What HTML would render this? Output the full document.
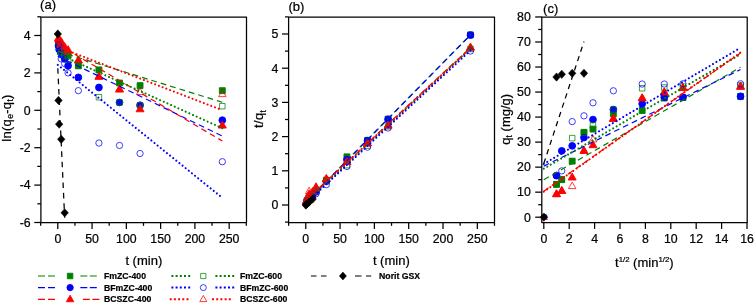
<!DOCTYPE html>
<html lang="en"><head><meta charset="utf-8"><title>Kinetic plots</title>
<style>html,body{margin:0;padding:0;background:#fff;}body{width:754px;height:303px;overflow:hidden;}svg{display:block;}text{stroke:#000;stroke-width:0.22px;}</style>
</head><body>
<svg width="754" height="303" viewBox="0 0 754 303" font-family='"Liberation Sans", Arial, sans-serif' stroke-linejoin="round">
<rect width="754" height="303" fill="#ffffff"/>
<rect x="40.90" y="17.00" width="205.60" height="205.50" fill="none" stroke="#000000" stroke-width="1.25"/>
<line x1="57.80" y1="222.50" x2="57.80" y2="228.90" stroke="#000000" stroke-width="1.25"/>
<text x="57.80" y="242.9" font-size="12.3" text-anchor="middle" fill="#000000">0</text>
<line x1="92.07" y1="222.50" x2="92.07" y2="228.90" stroke="#000000" stroke-width="1.25"/>
<text x="92.07" y="242.9" font-size="12.3" text-anchor="middle" fill="#000000">50</text>
<line x1="126.35" y1="222.50" x2="126.35" y2="228.90" stroke="#000000" stroke-width="1.25"/>
<text x="126.35" y="242.9" font-size="12.3" text-anchor="middle" fill="#000000">100</text>
<line x1="160.62" y1="222.50" x2="160.62" y2="228.90" stroke="#000000" stroke-width="1.25"/>
<text x="160.62" y="242.9" font-size="12.3" text-anchor="middle" fill="#000000">150</text>
<line x1="194.90" y1="222.50" x2="194.90" y2="228.90" stroke="#000000" stroke-width="1.25"/>
<text x="194.90" y="242.9" font-size="12.3" text-anchor="middle" fill="#000000">200</text>
<line x1="229.18" y1="222.50" x2="229.18" y2="228.90" stroke="#000000" stroke-width="1.25"/>
<text x="229.18" y="242.9" font-size="12.3" text-anchor="middle" fill="#000000">250</text>
<line x1="40.66" y1="222.50" x2="40.66" y2="225.80" stroke="#000000" stroke-width="1.25"/>
<line x1="74.94" y1="222.50" x2="74.94" y2="225.80" stroke="#000000" stroke-width="1.25"/>
<line x1="109.21" y1="222.50" x2="109.21" y2="225.80" stroke="#000000" stroke-width="1.25"/>
<line x1="143.49" y1="222.50" x2="143.49" y2="225.80" stroke="#000000" stroke-width="1.25"/>
<line x1="177.76" y1="222.50" x2="177.76" y2="225.80" stroke="#000000" stroke-width="1.25"/>
<line x1="212.04" y1="222.50" x2="212.04" y2="225.80" stroke="#000000" stroke-width="1.25"/>
<line x1="246.31" y1="222.50" x2="246.31" y2="225.80" stroke="#000000" stroke-width="1.25"/>
<line x1="34.30" y1="222.50" x2="40.90" y2="222.50" stroke="#000000" stroke-width="1.25"/>
<text x="30.60" y="226.80" font-size="12.3" text-anchor="end" fill="#000000">-6</text>
<line x1="34.30" y1="185.10" x2="40.90" y2="185.10" stroke="#000000" stroke-width="1.25"/>
<text x="30.60" y="189.40" font-size="12.3" text-anchor="end" fill="#000000">-4</text>
<line x1="34.30" y1="147.70" x2="40.90" y2="147.70" stroke="#000000" stroke-width="1.25"/>
<text x="30.60" y="152.00" font-size="12.3" text-anchor="end" fill="#000000">-2</text>
<line x1="34.30" y1="110.30" x2="40.90" y2="110.30" stroke="#000000" stroke-width="1.25"/>
<text x="30.60" y="114.60" font-size="12.3" text-anchor="end" fill="#000000">0</text>
<line x1="34.30" y1="72.90" x2="40.90" y2="72.90" stroke="#000000" stroke-width="1.25"/>
<text x="30.60" y="77.20" font-size="12.3" text-anchor="end" fill="#000000">2</text>
<line x1="34.30" y1="35.50" x2="40.90" y2="35.50" stroke="#000000" stroke-width="1.25"/>
<text x="30.60" y="39.80" font-size="12.3" text-anchor="end" fill="#000000">4</text>
<line x1="37.30" y1="203.80" x2="40.90" y2="203.80" stroke="#000000" stroke-width="1.25"/>
<line x1="37.30" y1="166.40" x2="40.90" y2="166.40" stroke="#000000" stroke-width="1.25"/>
<line x1="37.30" y1="129.00" x2="40.90" y2="129.00" stroke="#000000" stroke-width="1.25"/>
<line x1="37.30" y1="91.60" x2="40.90" y2="91.60" stroke="#000000" stroke-width="1.25"/>
<line x1="37.30" y1="54.20" x2="40.90" y2="54.20" stroke="#000000" stroke-width="1.25"/>
<line x1="37.30" y1="16.80" x2="40.90" y2="16.80" stroke="#000000" stroke-width="1.25"/>
<text x="40.1" y="9.1" font-size="13" fill="#000000">(a)</text>
<text x="143.8" y="265.4" font-size="13" text-anchor="middle" fill="#000000">t (min)</text>
<text transform="translate(10.7,118.0) rotate(-90)" font-size="13" letter-spacing="0.3" text-anchor="middle" fill="#000000">ln(q<tspan font-size="8.6" dy="2.6">e</tspan><tspan dy="-2.6">-q</tspan><tspan font-size="8.6" dy="2.6">t</tspan><tspan dy="-2.6">)</tspan></text>
<g>
<rect x="55.54" y="39.66" width="5.90" height="5.90" fill="#008000" stroke="#008000" stroke-width="0.9"/>
<rect x="56.22" y="40.96" width="5.90" height="5.90" fill="#008000" stroke="#008000" stroke-width="0.9"/>
<rect x="58.28" y="43.77" width="5.90" height="5.90" fill="#008000" stroke="#008000" stroke-width="0.9"/>
<rect x="61.70" y="48.45" width="5.90" height="5.90" fill="#008000" stroke="#008000" stroke-width="0.9"/>
<rect x="65.13" y="52.19" width="5.90" height="5.90" fill="#008000" stroke="#008000" stroke-width="0.9"/>
<rect x="75.41" y="62.84" width="5.90" height="5.90" fill="#008000" stroke="#008000" stroke-width="0.9"/>
<rect x="95.98" y="66.96" width="5.90" height="5.90" fill="#008000" stroke="#008000" stroke-width="0.9"/>
<rect x="116.55" y="80.05" width="5.90" height="5.90" fill="#008000" stroke="#008000" stroke-width="0.9"/>
<rect x="137.11" y="82.67" width="5.90" height="5.90" fill="#008000" stroke="#008000" stroke-width="0.9"/>
<rect x="219.37" y="87.72" width="5.90" height="5.90" fill="#008000" stroke="#008000" stroke-width="0.9"/>
<circle cx="58.49" cy="45.79" r="3.40" fill="#0000ff" stroke="#0000ff" stroke-width="0.9"/>
<circle cx="59.17" cy="49.53" r="3.40" fill="#0000ff" stroke="#0000ff" stroke-width="0.9"/>
<circle cx="61.23" cy="53.26" r="3.40" fill="#0000ff" stroke="#0000ff" stroke-width="0.9"/>
<circle cx="64.66" cy="58.88" r="3.40" fill="#0000ff" stroke="#0000ff" stroke-width="0.9"/>
<circle cx="68.08" cy="65.79" r="3.40" fill="#0000ff" stroke="#0000ff" stroke-width="0.9"/>
<circle cx="78.36" cy="77.39" r="3.40" fill="#0000ff" stroke="#0000ff" stroke-width="0.9"/>
<circle cx="98.93" cy="87.49" r="3.40" fill="#0000ff" stroke="#0000ff" stroke-width="0.9"/>
<circle cx="119.50" cy="102.45" r="3.40" fill="#0000ff" stroke="#0000ff" stroke-width="0.9"/>
<circle cx="140.06" cy="105.25" r="3.40" fill="#0000ff" stroke="#0000ff" stroke-width="0.9"/>
<circle cx="222.32" cy="120.21" r="3.40" fill="#0000ff" stroke="#0000ff" stroke-width="0.9"/>
<polygon points="58.49,33.91 62.49,40.91 54.49,40.91" fill="#ff0000" stroke="#ff0000" stroke-width="0.9"/>
<polygon points="59.17,35.21 63.17,42.21 55.17,42.21" fill="#ff0000" stroke="#ff0000" stroke-width="0.9"/>
<polygon points="61.23,38.21 65.23,45.21 57.23,45.21" fill="#ff0000" stroke="#ff0000" stroke-width="0.9"/>
<polygon points="64.66,42.69 68.66,49.69 60.66,49.69" fill="#ff0000" stroke="#ff0000" stroke-width="0.9"/>
<polygon points="68.08,45.69 72.08,52.69 64.08,52.69" fill="#ff0000" stroke="#ff0000" stroke-width="0.9"/>
<polygon points="78.36,55.97 82.36,62.97 74.36,62.97" fill="#ff0000" stroke="#ff0000" stroke-width="0.9"/>
<polygon points="98.93,72.24 102.93,79.24 94.93,79.24" fill="#ff0000" stroke="#ff0000" stroke-width="0.9"/>
<polygon points="119.50,84.96 123.50,91.96 115.50,91.96" fill="#ff0000" stroke="#ff0000" stroke-width="0.9"/>
<polygon points="140.06,104.78 144.06,111.78 136.06,111.78" fill="#ff0000" stroke="#ff0000" stroke-width="0.9"/>
<polygon points="222.32,121.05 226.32,128.05 218.32,128.05" fill="#ff0000" stroke="#ff0000" stroke-width="0.9"/>
<rect x="55.74" y="41.17" width="5.49" height="5.49" fill="none" stroke="#008000" stroke-width="0.75"/>
<rect x="56.43" y="43.98" width="5.49" height="5.49" fill="none" stroke="#008000" stroke-width="0.75"/>
<rect x="58.48" y="49.59" width="5.49" height="5.49" fill="none" stroke="#008000" stroke-width="0.75"/>
<rect x="61.91" y="53.33" width="5.49" height="5.49" fill="none" stroke="#008000" stroke-width="0.75"/>
<rect x="65.34" y="57.07" width="5.49" height="5.49" fill="none" stroke="#008000" stroke-width="0.75"/>
<rect x="75.62" y="63.05" width="5.49" height="5.49" fill="none" stroke="#008000" stroke-width="0.75"/>
<rect x="96.19" y="94.47" width="5.49" height="5.49" fill="none" stroke="#008000" stroke-width="0.75"/>
<rect x="116.75" y="99.70" width="5.49" height="5.49" fill="none" stroke="#008000" stroke-width="0.75"/>
<rect x="137.32" y="102.51" width="5.49" height="5.49" fill="none" stroke="#008000" stroke-width="0.75"/>
<rect x="219.58" y="103.44" width="5.49" height="5.49" fill="none" stroke="#008000" stroke-width="0.75"/>
<circle cx="58.49" cy="44.85" r="3.16" fill="none" stroke="#0000ff" stroke-width="0.75"/>
<circle cx="59.17" cy="46.72" r="3.16" fill="none" stroke="#0000ff" stroke-width="0.75"/>
<circle cx="61.23" cy="58.88" r="3.16" fill="none" stroke="#0000ff" stroke-width="0.75"/>
<circle cx="64.66" cy="63.55" r="3.16" fill="none" stroke="#0000ff" stroke-width="0.75"/>
<circle cx="68.08" cy="72.90" r="3.16" fill="none" stroke="#0000ff" stroke-width="0.75"/>
<circle cx="78.36" cy="90.67" r="3.16" fill="none" stroke="#0000ff" stroke-width="0.75"/>
<circle cx="98.93" cy="143.03" r="3.16" fill="none" stroke="#0000ff" stroke-width="0.75"/>
<circle cx="119.50" cy="145.46" r="3.16" fill="none" stroke="#0000ff" stroke-width="0.75"/>
<circle cx="140.06" cy="153.50" r="3.16" fill="none" stroke="#0000ff" stroke-width="0.75"/>
<circle cx="222.32" cy="161.72" r="3.16" fill="none" stroke="#0000ff" stroke-width="0.75"/>
<polygon points="58.49,35.52 62.21,42.03 54.77,42.03" fill="none" stroke="#ff0000" stroke-width="0.75"/>
<polygon points="59.17,36.64 62.89,43.15 55.45,43.15" fill="none" stroke="#ff0000" stroke-width="0.75"/>
<polygon points="61.23,37.39 64.95,43.90 57.51,43.90" fill="none" stroke="#ff0000" stroke-width="0.75"/>
<polygon points="64.66,45.43 68.38,51.94 60.94,51.94" fill="none" stroke="#ff0000" stroke-width="0.75"/>
<polygon points="68.08,48.24 71.80,54.75 64.36,54.75" fill="none" stroke="#ff0000" stroke-width="0.75"/>
<polygon points="78.36,56.28 82.08,62.79 74.64,62.79" fill="none" stroke="#ff0000" stroke-width="0.75"/>
<polygon points="98.93,72.55 102.65,79.06 95.21,79.06" fill="none" stroke="#ff0000" stroke-width="0.75"/>
<polygon points="119.50,85.26 123.22,91.77 115.78,91.77" fill="none" stroke="#ff0000" stroke-width="0.75"/>
<polygon points="140.06,88.07 143.78,94.58 136.34,94.58" fill="none" stroke="#ff0000" stroke-width="0.75"/>
<polygon points="222.32,90.13 226.04,96.64 218.60,96.64" fill="none" stroke="#ff0000" stroke-width="0.75"/>
<line x1="57.80" y1="51.21" x2="222.32" y2="102.26" stroke="#008000" stroke-width="1.2" stroke-dasharray="5.8 4.0" stroke-dashoffset="0"/>
<line x1="57.80" y1="56.26" x2="222.32" y2="136.11" stroke="#0000ff" stroke-width="1.2" stroke-dasharray="5.8 4.0" stroke-dashoffset="0"/>
<line x1="57.80" y1="44.29" x2="222.32" y2="140.97" stroke="#ff0000" stroke-width="1.2" stroke-dasharray="5.8 4.0" stroke-dashoffset="0"/>
<line x1="57.80" y1="53.83" x2="222.32" y2="128.25" stroke="#008000" stroke-width="2.1" stroke-linecap="round" stroke-dasharray="0.01 4"/>
<line x1="57.80" y1="64.86" x2="222.32" y2="197.82" stroke="#0000ff" stroke-width="2.1" stroke-linecap="round" stroke-dasharray="0.01 4"/>
<line x1="57.80" y1="46.91" x2="222.32" y2="110.21" stroke="#ff0000" stroke-width="2.1" stroke-linecap="round" stroke-dasharray="0.01 4"/>
<line x1="57.80" y1="68.22" x2="64.66" y2="217.82" stroke="#000000" stroke-width="1.25" stroke-dasharray="5.6 4.8"/>
<polygon points="57.80,29.85 61.55,34.00 57.80,38.15 54.05,34.00" fill="#000000" stroke="#000000" stroke-width="0.5"/>
<polygon points="58.49,96.24 62.24,100.39 58.49,104.54 54.74,100.39" fill="#000000" stroke="#000000" stroke-width="0.5"/>
<polygon points="59.17,119.99 62.92,124.14 59.17,128.29 55.42,124.14" fill="#000000" stroke="#000000" stroke-width="0.5"/>
<polygon points="61.23,135.13 64.98,139.28 61.23,143.44 57.48,139.28" fill="#000000" stroke="#000000" stroke-width="0.5"/>
<polygon points="64.66,208.63 68.41,212.78 64.66,216.93 60.91,212.78" fill="#000000" stroke="#000000" stroke-width="0.5"/>
</g>
<rect x="288.60" y="17.00" width="205.90" height="205.50" fill="none" stroke="#000000" stroke-width="1.25"/>
<line x1="305.75" y1="222.50" x2="305.75" y2="228.90" stroke="#000000" stroke-width="1.25"/>
<text x="305.75" y="242.9" font-size="12.3" text-anchor="middle" fill="#000000">0</text>
<line x1="340.06" y1="222.50" x2="340.06" y2="228.90" stroke="#000000" stroke-width="1.25"/>
<text x="340.06" y="242.9" font-size="12.3" text-anchor="middle" fill="#000000">50</text>
<line x1="374.38" y1="222.50" x2="374.38" y2="228.90" stroke="#000000" stroke-width="1.25"/>
<text x="374.38" y="242.9" font-size="12.3" text-anchor="middle" fill="#000000">100</text>
<line x1="408.69" y1="222.50" x2="408.69" y2="228.90" stroke="#000000" stroke-width="1.25"/>
<text x="408.69" y="242.9" font-size="12.3" text-anchor="middle" fill="#000000">150</text>
<line x1="443.01" y1="222.50" x2="443.01" y2="228.90" stroke="#000000" stroke-width="1.25"/>
<text x="443.01" y="242.9" font-size="12.3" text-anchor="middle" fill="#000000">200</text>
<line x1="477.33" y1="222.50" x2="477.33" y2="228.90" stroke="#000000" stroke-width="1.25"/>
<text x="477.33" y="242.9" font-size="12.3" text-anchor="middle" fill="#000000">250</text>
<line x1="288.59" y1="222.50" x2="288.59" y2="225.80" stroke="#000000" stroke-width="1.25"/>
<line x1="322.91" y1="222.50" x2="322.91" y2="225.80" stroke="#000000" stroke-width="1.25"/>
<line x1="357.22" y1="222.50" x2="357.22" y2="225.80" stroke="#000000" stroke-width="1.25"/>
<line x1="391.54" y1="222.50" x2="391.54" y2="225.80" stroke="#000000" stroke-width="1.25"/>
<line x1="425.85" y1="222.50" x2="425.85" y2="225.80" stroke="#000000" stroke-width="1.25"/>
<line x1="460.17" y1="222.50" x2="460.17" y2="225.80" stroke="#000000" stroke-width="1.25"/>
<line x1="494.48" y1="222.50" x2="494.48" y2="225.80" stroke="#000000" stroke-width="1.25"/>
<line x1="282.00" y1="205.00" x2="288.60" y2="205.00" stroke="#000000" stroke-width="1.25"/>
<text x="278.30" y="209.30" font-size="12.3" text-anchor="end" fill="#000000">0</text>
<line x1="282.00" y1="170.80" x2="288.60" y2="170.80" stroke="#000000" stroke-width="1.25"/>
<text x="278.30" y="175.10" font-size="12.3" text-anchor="end" fill="#000000">1</text>
<line x1="282.00" y1="136.60" x2="288.60" y2="136.60" stroke="#000000" stroke-width="1.25"/>
<text x="278.30" y="140.90" font-size="12.3" text-anchor="end" fill="#000000">2</text>
<line x1="282.00" y1="102.40" x2="288.60" y2="102.40" stroke="#000000" stroke-width="1.25"/>
<text x="278.30" y="106.70" font-size="12.3" text-anchor="end" fill="#000000">3</text>
<line x1="282.00" y1="68.20" x2="288.60" y2="68.20" stroke="#000000" stroke-width="1.25"/>
<text x="278.30" y="72.50" font-size="12.3" text-anchor="end" fill="#000000">4</text>
<line x1="282.00" y1="34.00" x2="288.60" y2="34.00" stroke="#000000" stroke-width="1.25"/>
<text x="278.30" y="38.30" font-size="12.3" text-anchor="end" fill="#000000">5</text>
<line x1="285.00" y1="222.10" x2="288.60" y2="222.10" stroke="#000000" stroke-width="1.25"/>
<line x1="285.00" y1="187.90" x2="288.60" y2="187.90" stroke="#000000" stroke-width="1.25"/>
<line x1="285.00" y1="153.70" x2="288.60" y2="153.70" stroke="#000000" stroke-width="1.25"/>
<line x1="285.00" y1="119.50" x2="288.60" y2="119.50" stroke="#000000" stroke-width="1.25"/>
<line x1="285.00" y1="85.30" x2="288.60" y2="85.30" stroke="#000000" stroke-width="1.25"/>
<line x1="285.00" y1="51.10" x2="288.60" y2="51.10" stroke="#000000" stroke-width="1.25"/>
<line x1="285.00" y1="16.90" x2="288.60" y2="16.90" stroke="#000000" stroke-width="1.25"/>
<text x="288.4" y="11.0" font-size="13" fill="#000000">(b)</text>
<text x="391.3" y="265.4" font-size="13" text-anchor="middle" fill="#000000">t (min)</text>
<text transform="translate(262.9,118.9) rotate(-90)" font-size="13" letter-spacing="0.3" text-anchor="middle" fill="#000000">t/q<tspan font-size="8.6" dy="2.6">t</tspan></text>
<g>
<rect x="303.49" y="199.44" width="5.90" height="5.90" fill="#008000" stroke="#008000" stroke-width="0.9"/>
<rect x="304.17" y="197.49" width="5.90" height="5.90" fill="#008000" stroke="#008000" stroke-width="0.9"/>
<rect x="306.23" y="194.42" width="5.90" height="5.90" fill="#008000" stroke="#008000" stroke-width="0.9"/>
<rect x="309.66" y="191.96" width="5.90" height="5.90" fill="#008000" stroke="#008000" stroke-width="0.9"/>
<rect x="313.09" y="187.48" width="5.90" height="5.90" fill="#008000" stroke="#008000" stroke-width="0.9"/>
<rect x="323.39" y="177.21" width="5.90" height="5.90" fill="#008000" stroke="#008000" stroke-width="0.9"/>
<rect x="343.98" y="153.88" width="5.90" height="5.90" fill="#008000" stroke="#008000" stroke-width="0.9"/>
<rect x="364.57" y="137.39" width="5.90" height="5.90" fill="#008000" stroke="#008000" stroke-width="0.9"/>
<rect x="385.16" y="116.19" width="5.90" height="5.90" fill="#008000" stroke="#008000" stroke-width="0.9"/>
<rect x="467.51" y="31.94" width="5.90" height="5.90" fill="#008000" stroke="#008000" stroke-width="0.9"/>
<circle cx="306.44" cy="202.94" r="3.40" fill="#0000ff" stroke="#0000ff" stroke-width="0.9"/>
<circle cx="307.12" cy="202.42" r="3.40" fill="#0000ff" stroke="#0000ff" stroke-width="0.9"/>
<circle cx="309.18" cy="199.00" r="3.40" fill="#0000ff" stroke="#0000ff" stroke-width="0.9"/>
<circle cx="312.61" cy="194.25" r="3.40" fill="#0000ff" stroke="#0000ff" stroke-width="0.9"/>
<circle cx="316.04" cy="191.85" r="3.40" fill="#0000ff" stroke="#0000ff" stroke-width="0.9"/>
<circle cx="326.34" cy="181.14" r="3.40" fill="#0000ff" stroke="#0000ff" stroke-width="0.9"/>
<circle cx="346.93" cy="159.70" r="3.40" fill="#0000ff" stroke="#0000ff" stroke-width="0.9"/>
<circle cx="367.52" cy="140.74" r="3.40" fill="#0000ff" stroke="#0000ff" stroke-width="0.9"/>
<circle cx="388.11" cy="119.32" r="3.40" fill="#0000ff" stroke="#0000ff" stroke-width="0.9"/>
<circle cx="470.46" cy="35.06" r="3.40" fill="#0000ff" stroke="#0000ff" stroke-width="0.9"/>
<polygon points="306.44,196.88 310.44,203.88 302.44,203.88" fill="#ff0000" stroke="#ff0000" stroke-width="0.9"/>
<polygon points="307.12,194.09 311.12,201.09 303.12,201.09" fill="#ff0000" stroke="#ff0000" stroke-width="0.9"/>
<polygon points="309.18,189.85 313.18,196.85 305.18,196.85" fill="#ff0000" stroke="#ff0000" stroke-width="0.9"/>
<polygon points="312.61,187.69 316.61,194.69 308.61,194.69" fill="#ff0000" stroke="#ff0000" stroke-width="0.9"/>
<polygon points="316.04,182.79 320.04,189.79 312.04,189.79" fill="#ff0000" stroke="#ff0000" stroke-width="0.9"/>
<polygon points="326.34,174.49 330.34,181.49 322.34,181.49" fill="#ff0000" stroke="#ff0000" stroke-width="0.9"/>
<polygon points="346.93,157.40 350.93,164.40 342.93,164.40" fill="#ff0000" stroke="#ff0000" stroke-width="0.9"/>
<polygon points="367.52,138.92 371.52,145.92 363.52,145.92" fill="#ff0000" stroke="#ff0000" stroke-width="0.9"/>
<polygon points="388.11,121.07 392.11,128.07 384.11,128.07" fill="#ff0000" stroke="#ff0000" stroke-width="0.9"/>
<polygon points="470.46,43.06 474.46,50.06 466.46,50.06" fill="#ff0000" stroke="#ff0000" stroke-width="0.9"/>
<rect x="303.69" y="199.67" width="5.49" height="5.49" fill="none" stroke="#008000" stroke-width="0.75"/>
<rect x="304.38" y="197.73" width="5.49" height="5.49" fill="none" stroke="#008000" stroke-width="0.75"/>
<rect x="306.44" y="196.85" width="5.49" height="5.49" fill="none" stroke="#008000" stroke-width="0.75"/>
<rect x="309.87" y="192.14" width="5.49" height="5.49" fill="none" stroke="#008000" stroke-width="0.75"/>
<rect x="313.30" y="188.28" width="5.49" height="5.49" fill="none" stroke="#008000" stroke-width="0.75"/>
<rect x="323.60" y="178.40" width="5.49" height="5.49" fill="none" stroke="#008000" stroke-width="0.75"/>
<rect x="344.18" y="162.41" width="5.49" height="5.49" fill="none" stroke="#008000" stroke-width="0.75"/>
<rect x="364.77" y="142.84" width="5.49" height="5.49" fill="none" stroke="#008000" stroke-width="0.75"/>
<rect x="385.36" y="123.64" width="5.49" height="5.49" fill="none" stroke="#008000" stroke-width="0.75"/>
<rect x="467.72" y="46.21" width="5.49" height="5.49" fill="none" stroke="#008000" stroke-width="0.75"/>
<circle cx="306.44" cy="202.95" r="3.16" fill="none" stroke="#0000ff" stroke-width="0.75"/>
<circle cx="307.12" cy="201.30" r="3.16" fill="none" stroke="#0000ff" stroke-width="0.75"/>
<circle cx="309.18" cy="200.52" r="3.16" fill="none" stroke="#0000ff" stroke-width="0.75"/>
<circle cx="312.61" cy="196.56" r="3.16" fill="none" stroke="#0000ff" stroke-width="0.75"/>
<circle cx="316.04" cy="193.77" r="3.16" fill="none" stroke="#0000ff" stroke-width="0.75"/>
<circle cx="326.34" cy="184.68" r="3.16" fill="none" stroke="#0000ff" stroke-width="0.75"/>
<circle cx="346.93" cy="166.43" r="3.16" fill="none" stroke="#0000ff" stroke-width="0.75"/>
<circle cx="367.52" cy="147.14" r="3.16" fill="none" stroke="#0000ff" stroke-width="0.75"/>
<circle cx="388.11" cy="128.00" r="3.16" fill="none" stroke="#0000ff" stroke-width="0.75"/>
<circle cx="470.46" cy="51.00" r="3.16" fill="none" stroke="#0000ff" stroke-width="0.75"/>
<polygon points="306.44,197.23 310.16,203.74 302.72,203.74" fill="none" stroke="#ff0000" stroke-width="0.75"/>
<polygon points="307.12,194.46 310.84,200.97 303.40,200.97" fill="none" stroke="#ff0000" stroke-width="0.75"/>
<polygon points="309.18,187.12 312.90,193.63 305.46,193.63" fill="none" stroke="#ff0000" stroke-width="0.75"/>
<polygon points="312.61,188.05 316.33,194.56 308.89,194.56" fill="none" stroke="#ff0000" stroke-width="0.75"/>
<polygon points="316.04,184.36 319.76,190.87 312.32,190.87" fill="none" stroke="#ff0000" stroke-width="0.75"/>
<polygon points="326.34,174.93 330.06,181.44 322.62,181.44" fill="none" stroke="#ff0000" stroke-width="0.75"/>
<polygon points="346.93,157.89 350.65,164.40 343.21,164.40" fill="none" stroke="#ff0000" stroke-width="0.75"/>
<polygon points="367.52,139.35 371.24,145.86 363.80,145.86" fill="none" stroke="#ff0000" stroke-width="0.75"/>
<polygon points="388.11,121.68 391.83,128.19 384.39,128.19" fill="none" stroke="#ff0000" stroke-width="0.75"/>
<polygon points="470.46,44.27 474.18,50.78 466.74,50.78" fill="none" stroke="#ff0000" stroke-width="0.75"/>
<line x1="305.75" y1="202.26" x2="470.46" y2="34.68" stroke="#008000" stroke-width="1.2" stroke-dasharray="5.8 4.0" stroke-dashoffset="1.3"/>
<line x1="305.75" y1="202.61" x2="470.46" y2="35.03" stroke="#0000ff" stroke-width="1.2" stroke-dasharray="5.8 4.0" stroke-dashoffset="0"/>
<line x1="305.75" y1="200.21" x2="470.46" y2="47.68" stroke="#ff0000" stroke-width="1.2" stroke-dasharray="5.8 4.0" stroke-dashoffset="0"/>
<line x1="305.75" y1="202.26" x2="470.46" y2="48.36" stroke="#008000" stroke-width="2.1" stroke-linecap="round" stroke-dasharray="0.01 4"/>
<line x1="305.75" y1="203.29" x2="470.46" y2="50.42" stroke="#0000ff" stroke-width="2.1" stroke-linecap="round" stroke-dasharray="0.01 4"/>
<line x1="305.75" y1="200.55" x2="470.46" y2="48.36" stroke="#ff0000" stroke-width="2.1" stroke-linecap="round" stroke-dasharray="0.01 4"/>
<polygon points="306.44,200.24 310.19,204.39 306.44,208.54 302.69,204.39" fill="#000000" stroke="#000000" stroke-width="0.5"/>
<polygon points="307.12,199.65 310.87,203.80 307.12,207.95 303.37,203.80" fill="#000000" stroke="#000000" stroke-width="0.5"/>
<polygon points="309.18,197.88 312.93,202.03 309.18,206.18 305.43,202.03" fill="#000000" stroke="#000000" stroke-width="0.5"/>
<polygon points="312.61,194.90 316.36,199.05 312.61,203.20 308.86,199.05" fill="#000000" stroke="#000000" stroke-width="0.5"/>
<polygon points="305.75,200.85 309.50,205.00 305.75,209.15 302.00,205.00" fill="#000000" stroke="#000000" stroke-width="0.5"/>
</g>
<rect x="541.80" y="17.00" width="205.40" height="205.50" fill="none" stroke="#000000" stroke-width="1.25"/>
<line x1="543.80" y1="222.50" x2="543.80" y2="228.90" stroke="#000000" stroke-width="1.25"/>
<text x="543.80" y="242.9" font-size="12.3" text-anchor="middle" fill="#000000">0</text>
<line x1="569.20" y1="222.50" x2="569.20" y2="228.90" stroke="#000000" stroke-width="1.25"/>
<text x="569.20" y="242.9" font-size="12.3" text-anchor="middle" fill="#000000">2</text>
<line x1="594.60" y1="222.50" x2="594.60" y2="228.90" stroke="#000000" stroke-width="1.25"/>
<text x="594.60" y="242.9" font-size="12.3" text-anchor="middle" fill="#000000">4</text>
<line x1="620.00" y1="222.50" x2="620.00" y2="228.90" stroke="#000000" stroke-width="1.25"/>
<text x="620.00" y="242.9" font-size="12.3" text-anchor="middle" fill="#000000">6</text>
<line x1="645.40" y1="222.50" x2="645.40" y2="228.90" stroke="#000000" stroke-width="1.25"/>
<text x="645.40" y="242.9" font-size="12.3" text-anchor="middle" fill="#000000">8</text>
<line x1="670.80" y1="222.50" x2="670.80" y2="228.90" stroke="#000000" stroke-width="1.25"/>
<text x="670.80" y="242.9" font-size="12.3" text-anchor="middle" fill="#000000">10</text>
<line x1="696.20" y1="222.50" x2="696.20" y2="228.90" stroke="#000000" stroke-width="1.25"/>
<text x="696.20" y="242.9" font-size="12.3" text-anchor="middle" fill="#000000">12</text>
<line x1="721.60" y1="222.50" x2="721.60" y2="228.90" stroke="#000000" stroke-width="1.25"/>
<text x="721.60" y="242.9" font-size="12.3" text-anchor="middle" fill="#000000">14</text>
<line x1="747.00" y1="222.50" x2="747.00" y2="228.90" stroke="#000000" stroke-width="1.25"/>
<text x="747.00" y="242.9" font-size="12.3" text-anchor="middle" fill="#000000">16</text>
<line x1="535.20" y1="217.20" x2="541.80" y2="217.20" stroke="#000000" stroke-width="1.25"/>
<text x="530.80" y="221.50" font-size="12.3" text-anchor="end" fill="#000000">0</text>
<line x1="535.20" y1="192.17" x2="541.80" y2="192.17" stroke="#000000" stroke-width="1.25"/>
<text x="530.80" y="196.47" font-size="12.3" text-anchor="end" fill="#000000">10</text>
<line x1="535.20" y1="167.14" x2="541.80" y2="167.14" stroke="#000000" stroke-width="1.25"/>
<text x="530.80" y="171.44" font-size="12.3" text-anchor="end" fill="#000000">20</text>
<line x1="535.20" y1="142.11" x2="541.80" y2="142.11" stroke="#000000" stroke-width="1.25"/>
<text x="530.80" y="146.41" font-size="12.3" text-anchor="end" fill="#000000">30</text>
<line x1="535.20" y1="117.08" x2="541.80" y2="117.08" stroke="#000000" stroke-width="1.25"/>
<text x="530.80" y="121.38" font-size="12.3" text-anchor="end" fill="#000000">40</text>
<line x1="535.20" y1="92.05" x2="541.80" y2="92.05" stroke="#000000" stroke-width="1.25"/>
<text x="530.80" y="96.35" font-size="12.3" text-anchor="end" fill="#000000">50</text>
<line x1="535.20" y1="67.02" x2="541.80" y2="67.02" stroke="#000000" stroke-width="1.25"/>
<text x="530.80" y="71.32" font-size="12.3" text-anchor="end" fill="#000000">60</text>
<line x1="535.20" y1="41.99" x2="541.80" y2="41.99" stroke="#000000" stroke-width="1.25"/>
<text x="530.80" y="46.29" font-size="12.3" text-anchor="end" fill="#000000">70</text>
<line x1="535.20" y1="16.96" x2="541.80" y2="16.96" stroke="#000000" stroke-width="1.25"/>
<text x="530.80" y="21.26" font-size="12.3" text-anchor="end" fill="#000000">80</text>
<line x1="538.20" y1="204.69" x2="541.80" y2="204.69" stroke="#000000" stroke-width="1.25"/>
<line x1="538.20" y1="179.65" x2="541.80" y2="179.65" stroke="#000000" stroke-width="1.25"/>
<line x1="538.20" y1="154.62" x2="541.80" y2="154.62" stroke="#000000" stroke-width="1.25"/>
<line x1="538.20" y1="129.59" x2="541.80" y2="129.59" stroke="#000000" stroke-width="1.25"/>
<line x1="538.20" y1="104.56" x2="541.80" y2="104.56" stroke="#000000" stroke-width="1.25"/>
<line x1="538.20" y1="79.53" x2="541.80" y2="79.53" stroke="#000000" stroke-width="1.25"/>
<line x1="538.20" y1="54.50" x2="541.80" y2="54.50" stroke="#000000" stroke-width="1.25"/>
<line x1="538.20" y1="29.47" x2="541.80" y2="29.47" stroke="#000000" stroke-width="1.25"/>
<text x="543.1" y="12.8" font-size="13" fill="#000000">(c)</text>
<text x="644.3" y="267.2" font-size="13" text-anchor="middle" fill="#000000">t<tspan font-size="7.8" dy="-5.2">1/2</tspan><tspan dy="5.2"> (min</tspan><tspan font-size="7.8" dy="-5.2">1/2</tspan><tspan dy="5.2">)</tspan></text>
<text transform="translate(509.5,119.3) rotate(-90)" font-size="13" text-anchor="middle" fill="#000000">q<tspan font-size="8.6" dy="2.6">t</tspan><tspan dy="-2.6"> (mg/g)</tspan></text>
<g>
<rect x="553.55" y="181.46" width="5.90" height="5.90" fill="#008000" stroke="#008000" stroke-width="0.9"/>
<rect x="558.81" y="176.70" width="5.90" height="5.90" fill="#008000" stroke="#008000" stroke-width="0.9"/>
<rect x="569.25" y="158.18" width="5.90" height="5.90" fill="#008000" stroke="#008000" stroke-width="0.9"/>
<rect x="581.01" y="129.40" width="5.90" height="5.90" fill="#008000" stroke="#008000" stroke-width="0.9"/>
<rect x="590.04" y="126.14" width="5.90" height="5.90" fill="#008000" stroke="#008000" stroke-width="0.9"/>
<rect x="610.41" y="110.88" width="5.90" height="5.90" fill="#008000" stroke="#008000" stroke-width="0.9"/>
<rect x="639.22" y="107.62" width="5.90" height="5.90" fill="#008000" stroke="#008000" stroke-width="0.9"/>
<rect x="661.33" y="95.11" width="5.90" height="5.90" fill="#008000" stroke="#008000" stroke-width="0.9"/>
<rect x="679.97" y="94.61" width="5.90" height="5.90" fill="#008000" stroke="#008000" stroke-width="0.9"/>
<rect x="737.60" y="93.48" width="5.90" height="5.90" fill="#008000" stroke="#008000" stroke-width="0.9"/>
<circle cx="544.40" cy="216.90" r="2.72" fill="#0000ff" stroke="#0000ff" stroke-width="0.9"/>
<circle cx="556.50" cy="175.65" r="3.40" fill="#0000ff" stroke="#0000ff" stroke-width="0.9"/>
<circle cx="561.76" cy="150.87" r="3.40" fill="#0000ff" stroke="#0000ff" stroke-width="0.9"/>
<circle cx="572.20" cy="145.86" r="3.40" fill="#0000ff" stroke="#0000ff" stroke-width="0.9"/>
<circle cx="583.96" cy="137.60" r="3.40" fill="#0000ff" stroke="#0000ff" stroke-width="0.9"/>
<circle cx="592.99" cy="119.58" r="3.40" fill="#0000ff" stroke="#0000ff" stroke-width="0.9"/>
<circle cx="613.36" cy="109.57" r="3.40" fill="#0000ff" stroke="#0000ff" stroke-width="0.9"/>
<circle cx="642.17" cy="103.81" r="3.40" fill="#0000ff" stroke="#0000ff" stroke-width="0.9"/>
<circle cx="664.28" cy="97.31" r="3.40" fill="#0000ff" stroke="#0000ff" stroke-width="0.9"/>
<circle cx="682.92" cy="97.31" r="3.40" fill="#0000ff" stroke="#0000ff" stroke-width="0.9"/>
<circle cx="740.55" cy="96.31" r="3.40" fill="#0000ff" stroke="#0000ff" stroke-width="0.9"/>
<polygon points="544.10,213.88 547.30,219.48 540.90,219.48" fill="#ff0000" stroke="#ff0000" stroke-width="0.9"/>
<polygon points="556.50,189.77 560.50,196.77 552.50,196.77" fill="#ff0000" stroke="#ff0000" stroke-width="0.9"/>
<polygon points="561.76,186.52 565.76,193.52 557.76,193.52" fill="#ff0000" stroke="#ff0000" stroke-width="0.9"/>
<polygon points="572.20,173.00 576.20,180.00 568.20,180.00" fill="#ff0000" stroke="#ff0000" stroke-width="0.9"/>
<polygon points="583.96,146.47 587.96,153.47 579.96,153.47" fill="#ff0000" stroke="#ff0000" stroke-width="0.9"/>
<polygon points="592.99,140.71 596.99,147.71 588.99,147.71" fill="#ff0000" stroke="#ff0000" stroke-width="0.9"/>
<polygon points="613.36,114.43 617.36,121.43 609.36,121.43" fill="#ff0000" stroke="#ff0000" stroke-width="0.9"/>
<polygon points="642.17,93.91 646.17,100.91 638.17,100.91" fill="#ff0000" stroke="#ff0000" stroke-width="0.9"/>
<polygon points="664.28,87.90 668.28,94.90 660.28,94.90" fill="#ff0000" stroke="#ff0000" stroke-width="0.9"/>
<polygon points="682.92,83.65 686.92,90.65 678.92,90.65" fill="#ff0000" stroke="#ff0000" stroke-width="0.9"/>
<polygon points="740.55,82.39 744.55,89.39 736.55,89.39" fill="#ff0000" stroke="#ff0000" stroke-width="0.9"/>
<rect x="553.76" y="181.42" width="5.49" height="5.49" fill="none" stroke="#008000" stroke-width="0.75"/>
<rect x="559.02" y="176.66" width="5.49" height="5.49" fill="none" stroke="#008000" stroke-width="0.75"/>
<rect x="569.45" y="135.36" width="5.49" height="5.49" fill="none" stroke="#008000" stroke-width="0.75"/>
<rect x="581.22" y="129.86" width="5.49" height="5.49" fill="none" stroke="#008000" stroke-width="0.75"/>
<rect x="590.24" y="122.60" width="5.49" height="5.49" fill="none" stroke="#008000" stroke-width="0.75"/>
<rect x="610.62" y="106.83" width="5.49" height="5.49" fill="none" stroke="#008000" stroke-width="0.75"/>
<rect x="639.43" y="85.55" width="5.49" height="5.49" fill="none" stroke="#008000" stroke-width="0.75"/>
<rect x="661.54" y="84.80" width="5.49" height="5.49" fill="none" stroke="#008000" stroke-width="0.75"/>
<rect x="680.18" y="83.80" width="5.49" height="5.49" fill="none" stroke="#008000" stroke-width="0.75"/>
<rect x="737.80" y="82.80" width="5.49" height="5.49" fill="none" stroke="#008000" stroke-width="0.75"/>
<circle cx="556.50" cy="175.40" r="3.16" fill="none" stroke="#0000ff" stroke-width="0.75"/>
<circle cx="561.76" cy="170.89" r="3.16" fill="none" stroke="#0000ff" stroke-width="0.75"/>
<circle cx="572.20" cy="121.59" r="3.16" fill="none" stroke="#0000ff" stroke-width="0.75"/>
<circle cx="583.96" cy="115.83" r="3.16" fill="none" stroke="#0000ff" stroke-width="0.75"/>
<circle cx="592.99" cy="102.81" r="3.16" fill="none" stroke="#0000ff" stroke-width="0.75"/>
<circle cx="613.36" cy="90.80" r="3.16" fill="none" stroke="#0000ff" stroke-width="0.75"/>
<circle cx="642.17" cy="84.04" r="3.16" fill="none" stroke="#0000ff" stroke-width="0.75"/>
<circle cx="664.28" cy="84.04" r="3.16" fill="none" stroke="#0000ff" stroke-width="0.75"/>
<circle cx="682.92" cy="83.79" r="3.16" fill="none" stroke="#0000ff" stroke-width="0.75"/>
<circle cx="740.55" cy="83.79" r="3.16" fill="none" stroke="#0000ff" stroke-width="0.75"/>
<polygon points="556.50,189.83 560.22,196.34 552.78,196.34" fill="none" stroke="#ff0000" stroke-width="0.75"/>
<polygon points="561.76,186.58 565.48,193.09 558.04,193.09" fill="none" stroke="#ff0000" stroke-width="0.75"/>
<polygon points="572.20,182.07 575.92,188.58 568.48,188.58" fill="none" stroke="#ff0000" stroke-width="0.75"/>
<polygon points="583.96,146.53 587.68,153.04 580.24,153.04" fill="none" stroke="#ff0000" stroke-width="0.75"/>
<polygon points="592.99,135.51 596.71,142.02 589.27,142.02" fill="none" stroke="#ff0000" stroke-width="0.75"/>
<polygon points="613.36,114.24 617.08,120.75 609.64,120.75" fill="none" stroke="#ff0000" stroke-width="0.75"/>
<polygon points="642.17,93.71 645.89,100.22 638.45,100.22" fill="none" stroke="#ff0000" stroke-width="0.75"/>
<polygon points="664.28,87.96 668.00,94.47 660.56,94.47" fill="none" stroke="#ff0000" stroke-width="0.75"/>
<polygon points="682.92,83.45 686.64,89.96 679.20,89.96" fill="none" stroke="#ff0000" stroke-width="0.75"/>
<polygon points="740.55,81.95 744.27,88.46 736.83,88.46" fill="none" stroke="#ff0000" stroke-width="0.75"/>
<line x1="543.80" y1="179.65" x2="740.52" y2="67.27" stroke="#008000" stroke-width="1.2" stroke-dasharray="5.8 4.0" stroke-dashoffset="0"/>
<line x1="543.80" y1="166.14" x2="740.52" y2="69.52" stroke="#0000ff" stroke-width="1.2" stroke-dasharray="5.8 4.0" stroke-dashoffset="0"/>
<line x1="543.80" y1="191.17" x2="740.52" y2="53.00" stroke="#ff0000" stroke-width="1.2" stroke-dasharray="5.8 4.0" stroke-dashoffset="0"/>
<line x1="543.80" y1="168.64" x2="740.52" y2="54.25" stroke="#008000" stroke-width="2.1" stroke-linecap="round" stroke-dasharray="0.01 4"/>
<line x1="543.80" y1="163.89" x2="740.52" y2="47.75" stroke="#0000ff" stroke-width="2.1" stroke-linecap="round" stroke-dasharray="0.01 4"/>
<line x1="543.80" y1="191.67" x2="740.52" y2="52.50" stroke="#ff0000" stroke-width="2.1" stroke-linecap="round" stroke-dasharray="0.01 4"/>
<line x1="543.80" y1="163.51" x2="583.96" y2="41.61" stroke="#000000" stroke-width="1.25" stroke-dasharray="5.3 4.5"/>
<polygon points="556.50,72.88 560.25,77.03 556.50,81.18 552.75,77.03" fill="#000000" stroke="#000000" stroke-width="0.5"/>
<polygon points="561.76,70.13 565.51,74.28 561.76,78.43 558.01,74.28" fill="#000000" stroke="#000000" stroke-width="0.5"/>
<polygon points="572.20,69.13 575.95,73.28 572.20,77.43 568.45,73.28" fill="#000000" stroke="#000000" stroke-width="0.5"/>
<polygon points="583.96,69.13 587.71,73.28 583.96,77.43 580.21,73.28" fill="#000000" stroke="#000000" stroke-width="0.5"/>
<polygon points="543.80,213.05 547.55,217.20 543.80,221.35 540.05,217.20" fill="#000000" stroke="#000000" stroke-width="0.5"/>
</g>
<g font-weight="bold" font-size="8.7">
<line x1="38" y1="276.0" x2="55" y2="276.0" stroke="#008000" stroke-width="1.15" stroke-dasharray="7 3"/>
<line x1="80.3" y1="276.0" x2="97" y2="276.0" stroke="#008000" stroke-width="1.15" stroke-dasharray="7 2.5"/>
<rect x="67.36" y="273.26" width="5.49" height="5.49" fill="#008000" stroke="#008000" stroke-width="0.9"/>
<text x="104" y="279.1" fill="#000000">FmZC-400</text>
<line x1="38" y1="287.6" x2="55" y2="287.6" stroke="#0000ff" stroke-width="1.15" stroke-dasharray="7 3"/>
<line x1="80.3" y1="287.6" x2="97" y2="287.6" stroke="#0000ff" stroke-width="1.15" stroke-dasharray="7 2.5"/>
<circle cx="70.10" cy="287.60" r="3.16" fill="#0000ff" stroke="#0000ff" stroke-width="0.9"/>
<text x="104" y="290.70000000000005" fill="#000000">BFmZC-400</text>
<line x1="38" y1="299.3" x2="55" y2="299.3" stroke="#ff0000" stroke-width="1.15" stroke-dasharray="7 3"/>
<line x1="82.89999999999999" y1="299.3" x2="99.6" y2="299.3" stroke="#ff0000" stroke-width="1.15" stroke-dasharray="7 2.5"/>
<polygon points="70.10,295.21 73.82,301.72 66.38,301.72" fill="#ff0000" stroke="#ff0000" stroke-width="0.9"/>
<text x="104" y="302.40000000000003" fill="#000000">BCSZC-400</text>
<line x1="171.4" y1="276.0" x2="191" y2="276.0" stroke="#008000" stroke-width="2" stroke-dasharray="2 2.2"/>
<line x1="215.4" y1="276.0" x2="235.5" y2="276.0" stroke="#008000" stroke-width="2" stroke-dasharray="2 2.2"/>
<rect x="200.69" y="273.39" width="5.21" height="5.21" fill="none" stroke="#008000" stroke-width="0.75"/>
<text x="240" y="279.1" fill="#000000">FmZC-600</text>
<line x1="171.4" y1="287.6" x2="191" y2="287.6" stroke="#0000ff" stroke-width="2" stroke-dasharray="2 2.2"/>
<line x1="215.4" y1="287.6" x2="235.5" y2="287.6" stroke="#0000ff" stroke-width="2" stroke-dasharray="2 2.2"/>
<circle cx="203.30" cy="287.60" r="3.00" fill="none" stroke="#0000ff" stroke-width="0.75"/>
<text x="240" y="290.70000000000005" fill="#000000">BFmZC-600</text>
<line x1="169.70000000000002" y1="299.3" x2="189.3" y2="299.3" stroke="#ff0000" stroke-width="2" stroke-dasharray="2 2.2"/>
<line x1="212.0" y1="299.3" x2="232.1" y2="299.3" stroke="#ff0000" stroke-width="2" stroke-dasharray="2 2.2"/>
<polygon points="203.30,295.41 206.83,301.60 199.77,301.60" fill="none" stroke="#ff0000" stroke-width="0.75"/>
<text x="240" y="302.40000000000003" fill="#000000">BCSZC-600</text>
<line x1="311" y1="276.0" x2="327.2" y2="276.0" stroke="#000" stroke-width="1.1" stroke-dasharray="5.5 4.5"/>
<line x1="355" y1="276.0" x2="371.2" y2="276.0" stroke="#000" stroke-width="1.1" stroke-dasharray="6.5 4.5"/>
<polygon points="342.90,272.06 346.46,276.00 342.90,279.94 339.34,276.00" fill="#000000" stroke="#000000" stroke-width="0.5"/>
<text x="379.1" y="279.1" fill="#000000">Norit GSX</text>
</g>
</svg>
</body></html>
